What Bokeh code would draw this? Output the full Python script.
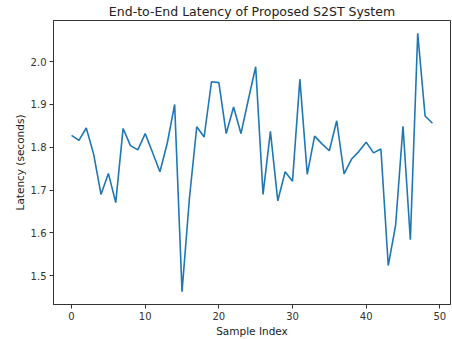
from bokeh.plotting import figure
from bokeh.models import FixedTicker, Range1d, PrintfTickFormatter
from bokeh.embed import file_html
from bokeh.resources import INLINE

sample_index = list(range(50))
latency = [1.828, 1.816, 1.845, 1.784, 1.690, 1.739, 1.671, 1.844, 1.804, 1.794,
           1.832, 1.788, 1.743, 1.810, 1.900, 1.463, 1.680, 1.848, 1.824, 1.953,
           1.951, 1.832, 1.894, 1.832, 1.911, 1.988, 1.690, 1.837, 1.675, 1.743,
           1.721, 1.959, 1.737, 1.826, 1.808, 1.792, 1.862, 1.738, 1.772, 1.790,
           1.812, 1.787, 1.796, 1.524, 1.618, 1.849, 1.584, 2.066, 1.873, 1.856]
x_ticks = [0, 10, 20, 30, 40, 50]
y_ticks = [1.5, 1.6, 1.7, 1.8, 1.9, 2.0]

FONT = "DejaVu Sans"

p = figure(width=452, height=339, output_backend="svg", toolbar_location=None,
           title="End-to-End Latency of Proposed S2ST System",
           x_axis_label="Sample Index", y_axis_label="Latency (seconds)")
p.x_range = Range1d(-2.45, 51.45)
p.y_range = Range1d(1.433, 2.096)

p.line(sample_index, latency, line_color="#1f77b4", line_width=1.6)

p.min_border_left = 53
p.min_border_right = 2
p.min_border_top = 4
p.min_border_bottom = 30

p.title.align = "center"
p.title.text_font = FONT
p.title.text_font_size = "12.5px"
p.title.text_font_style = "normal"
p.title.text_color = "#222222"
p.title.offset = 0
p.title.standoff = 3

p.xgrid.visible = False
p.ygrid.visible = False
p.outline_line_color = "#333333"
p.outline_line_width = 1
p.background_fill_color = "white"
p.border_fill_color = "white"

p.xaxis.ticker = FixedTicker(ticks=x_ticks)
p.yaxis.ticker = FixedTicker(ticks=y_ticks)
p.yaxis.formatter = PrintfTickFormatter(format="%.1f")
for ax in (p.xaxis[0], p.yaxis[0]):
    ax.axis_line_color = "#333333"
    ax.major_tick_line_color = "#333333"
    ax.major_tick_out = 4
    ax.major_tick_in = 0
    ax.minor_tick_line_color = None
    ax.major_label_text_font = FONT
    ax.major_label_text_font_size = "10px"
    ax.major_label_text_color = "#333333"
    ax.axis_label_text_font = FONT
    ax.axis_label_text_font_size = "10.5px"
    ax.axis_label_text_font_style = "normal"
    ax.axis_label_text_color = "#222222"
    ax.major_label_standoff = 3
    ax.axis_label_standoff = 2

open("out.html", "w").write(file_html(p, INLINE))
